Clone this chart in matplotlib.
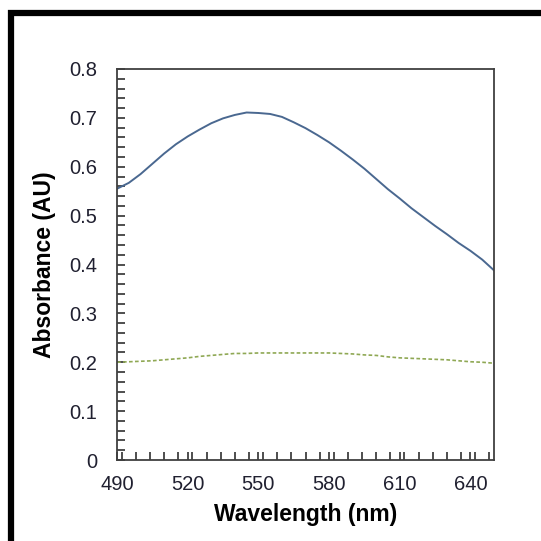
import matplotlib
matplotlib.use("Agg")
import matplotlib.pyplot as plt
from matplotlib.patches import Rectangle
from matplotlib.ticker import MultipleLocator

# valeurs
longueur_onde = [490, 495, 500, 505, 510, 515, 520, 525, 530, 535, 540,
                 545, 550, 555, 560, 565, 570, 575, 580, 585, 590, 595,
                 600, 605, 610, 615, 620, 625, 630, 635, 640, 645, 650]
absorbance_1 = [0.555, 0.567, 0.585, 0.606, 0.627, 0.646, 0.662, 0.676,
                0.689, 0.699, 0.706, 0.711, 0.710, 0.708, 0.702, 0.691,
                0.679, 0.665, 0.650, 0.633, 0.615, 0.596, 0.575, 0.554,
                0.535, 0.515, 0.497, 0.479, 0.462, 0.444, 0.428, 0.410,
                0.388]
absorbance_2 = [0.200, 0.201, 0.202, 0.203, 0.205, 0.207, 0.209, 0.212,
                0.214, 0.216, 0.218, 0.218, 0.219, 0.219, 0.219, 0.219,
                0.219, 0.219, 0.219, 0.218, 0.217, 0.215, 0.214, 0.211,
                0.209, 0.208, 0.207, 0.206, 0.205, 0.203, 0.201, 0.200,
                0.198]
x_ticks = [490, 520, 550, 580, 610, 640]
y_ticks = [0, 0.1, 0.2, 0.3, 0.4, 0.5, 0.6, 0.7, 0.8]

plt.rcParams["font.family"] = ["Liberation Sans", "DejaVu Sans"]

W = 541
fig = plt.figure(figsize=(5.41, 5.41), dpi=100)
ax = fig.add_axes([117 / W, 81 / W, 377 / W, 391 / W])

# cadre noir épais autour du graphique (coupé à droite et en bas)
fig.patches.append(Rectangle((11 / W, -0.2), 1.5, 1.2 - 12.5 / W,
                             transform=fig.transFigure, fill=False,
                             edgecolor="black", linewidth=4.5, clip_on=False))

ax.plot(longueur_onde, absorbance_1, color="#4a6890", linewidth=1.4)
ax.plot(longueur_onde, absorbance_2, color="#8fa854", linewidth=1.2,
        linestyle=(0, (2.2, 1.4)))

ax.set_xlim(490, 650)
ax.set_ylim(0, 0.8)
ax.set_xticks(x_ticks)
ax.set_yticks(y_ticks)
ax.set_yticklabels(["0" if v == 0 else f"{v:.1f}" for v in y_ticks])
ax.xaxis.set_minor_locator(MultipleLocator(6))
ax.yaxis.set_minor_locator(MultipleLocator(0.02))

couleur_txt = "#202030"
ax.tick_params(axis="both", which="both", direction="in", length=6,
               width=1.2, color="#303030", labelsize=14.5, labelcolor=couleur_txt)
ax.tick_params(axis="x", which="major", pad=11)
ax.tick_params(axis="y", which="major", pad=14)
ax.tick_params(top=False, right=False, which="both")

for s in ax.spines.values():
    s.set_color("#404040")
    s.set_linewidth(1.3)

ax.set_xlabel("Wavelength (nm)", fontsize=16.5, fontweight="bold",
              color="black", labelpad=6)
ax.set_ylabel("Absorbance (AU)", fontsize=16.5, fontweight="bold",
              color="black", labelpad=10)

fig.savefig("out.png", dpi=100)
